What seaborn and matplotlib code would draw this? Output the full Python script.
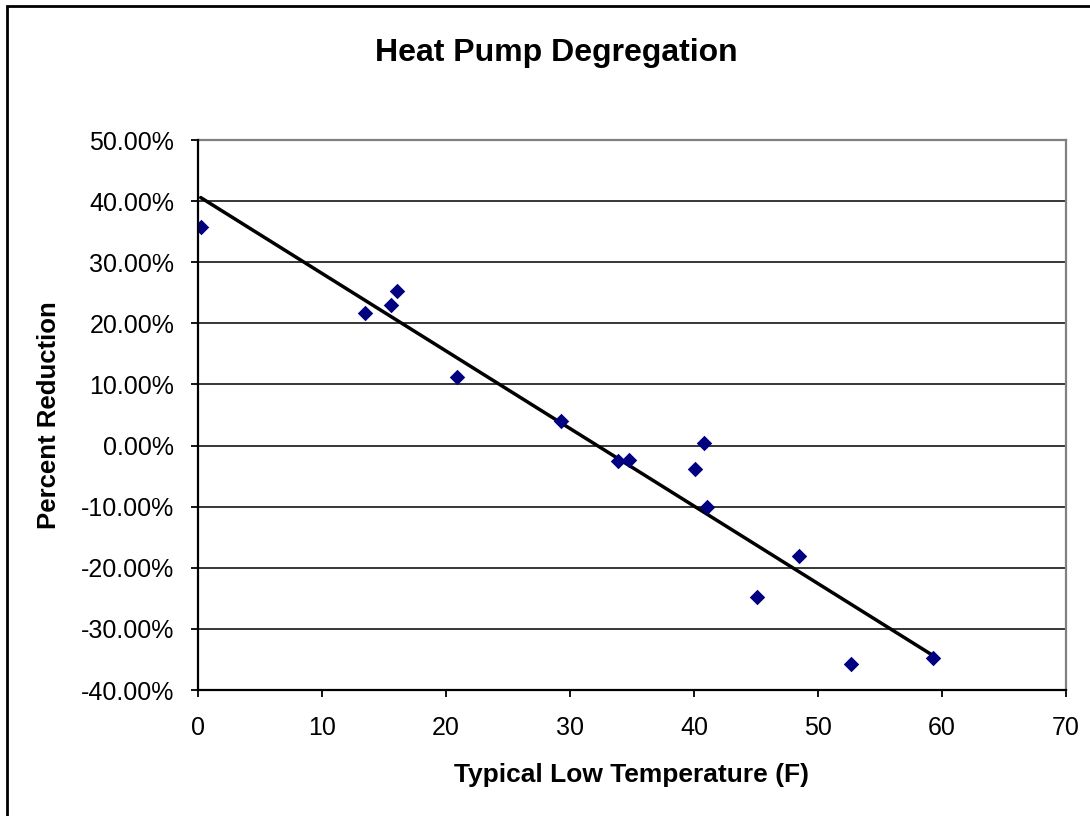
import matplotlib
matplotlib.use("Agg")
import matplotlib.pyplot as plt
import seaborn as sns
import pandas as pd
from matplotlib.patches import Rectangle
from matplotlib.ticker import FuncFormatter

# Data
low_temp_f = [0.22, 13.47, 15.54, 16.02, 20.86, 29.25, 33.9, 34.78,
              40.8, 40.08, 41.07, 48.47, 45.05, 52.66, 59.25]
pct_reduction = [0.357, 0.217, 0.230, 0.253, 0.112, 0.041, -0.025, -0.024,
                 0.005, -0.038, -0.101, -0.181, -0.247, -0.358, -0.348]
x_ticks = [0, 10, 20, 30, 40, 50, 60, 70]
y_ticks = [-0.4, -0.3, -0.2, -0.1, 0.0, 0.1, 0.2, 0.3, 0.4, 0.5]

title = "Heat Pump Degregation"
x_label = "Typical Low Temperature (F)"
y_label = "Percent Reduction"

df = pd.DataFrame({"temp": low_temp_f, "pct": pct_reduction})

sns.set_theme(style="white")
plt.rcParams["font.family"] = ["Liberation Sans", "DejaVu Sans"]

fig = plt.figure(figsize=(10.9, 8.16), dpi=100)
ax = fig.add_axes([198 / 1090, 1 - 690 / 816, 868 / 1090, 550 / 816])

sns.regplot(data=df, x="temp", y="pct", ax=ax, scatter=False, ci=None,
            truncate=True, color="black", line_kws={"lw": 2.5, "zorder": 3})
sns.scatterplot(data=df, x="temp", y="pct", ax=ax, marker="D", s=62,
                color="#000080", edgecolor="#000080", linewidth=0, zorder=4)

ax.set_xlim(0, 70)
ax.set_ylim(-0.4, 0.5)
ax.set_xticks(x_ticks)
ax.set_yticks(y_ticks)
ax.yaxis.set_major_formatter(FuncFormatter(lambda v, p: f"{v * 100:.2f}%"))
ax.xaxis.set_major_formatter(FuncFormatter(lambda v, p: f"{v:g}"))

ax.grid(axis="y", color="black", lw=1.1)
ax.grid(axis="x", visible=False)
ax.set_axisbelow(True)

for s in ["left", "bottom"]:
    ax.spines[s].set_color("black")
    ax.spines[s].set_linewidth(1.6)
    ax.spines[s].set_zorder(5)
for s in ["top", "right"]:
    ax.spines[s].set_color("#808080")
    ax.spines[s].set_linewidth(1.6)

ax.tick_params(axis="both", direction="out", length=5, width=1.3,
               color="black", labelsize=18, labelcolor="black")
ax.tick_params(axis="y", pad=12)
ax.tick_params(axis="x", pad=14)
ax.tick_params(left=True, bottom=True)

ax.set_xlabel(x_label, fontsize=19, fontweight="bold", color="black")
ax.set_ylabel(y_label, fontsize=18.5, fontweight="bold", color="black")
ax.xaxis.set_label_coords(0.5, (690 - 763) / 550)
ax.yaxis.set_label_coords((61 - 198) / 868, 0.5)

fig.text(556 / 1090, 1 - 53 / 816, title, ha="center", va="center",
         fontsize=23, fontweight="bold", color="black")

# outer chart border (left and top visible, cropped on right/bottom)
fig.patches.append(Rectangle((7 / 1090, -0.05), 1.1, 1.05 - 6 / 816,
                             transform=fig.transFigure, fill=False,
                             edgecolor="black", lw=2.0))

fig.savefig("out.png", dpi=100)
